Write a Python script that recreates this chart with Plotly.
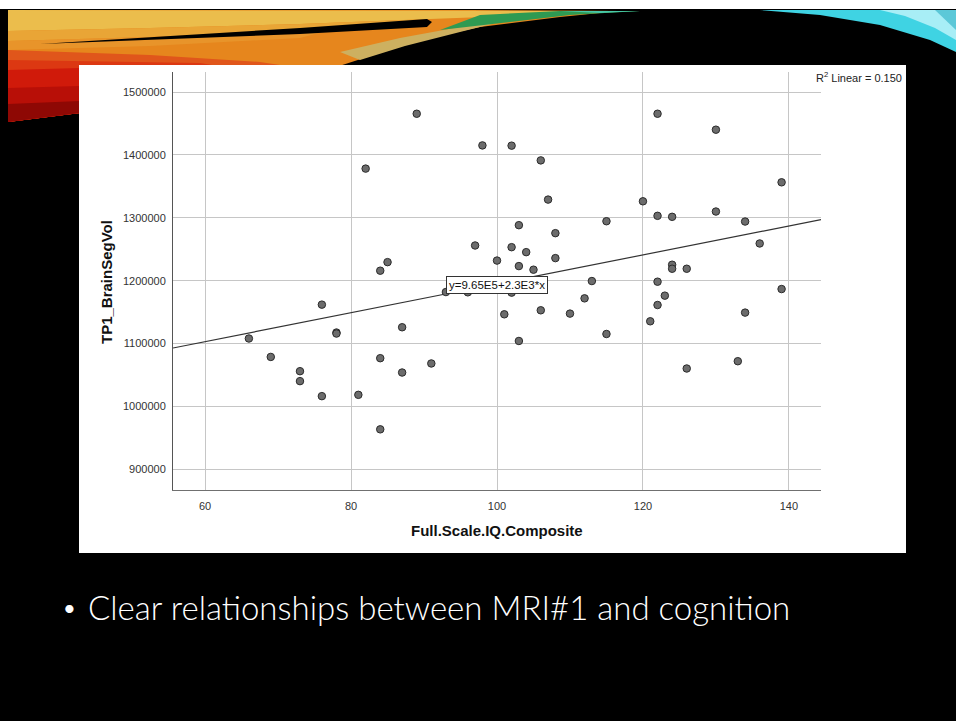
import numpy as np
import plotly.graph_objects as go

# ---------------- data ----------------
iq = [66, 69, 73, 73, 76, 76, 78, 78, 81, 82, 84, 84, 84, 85, 87, 87, 89, 91,
      93, 96, 97, 98, 100, 101, 102, 102, 102, 103, 103, 103, 104, 105, 106, 106,
      107, 108, 108, 110, 112, 113, 115, 115, 120, 121, 122, 122, 122, 122, 123,
      124, 124, 124, 126, 126, 130, 130, 133, 134, 134, 136, 139, 139]
brain_vol = [1108000, 1078700, 1056000, 1040200, 1161900, 1016300, 1117500, 1115900,
             1018400, 1378300, 1215900, 1076700, 963500, 1229500, 1125900, 1053900,
             1465600, 1068300, 1181900, 1181500, 1256000, 1415200, 1232000, 1146500,
             1414800, 1253300, 1181000, 1288300, 1223200, 1104100, 1245400, 1217500,
             1391400, 1152900, 1329000, 1275600, 1235900, 1147600, 1171900, 1199400,
             1294600, 1115200, 1326300, 1135400, 1465600, 1303200, 1198400, 1161300,
             1176200, 1301600, 1225400, 1219000, 1219000, 1060300, 1440200, 1310000,
             1071900, 1294100, 1149200, 1259200, 1356500, 1186700]

fit_intercept = 9.65e5
fit_slope = 2.3e3
r2_text = "R<sup>2</sup> Linear = 0.150"
eq_text = "y=9.65E5+2.3E3*x"
eq_anchor_x = 93

x_ticks = [60, 80, 100, 120, 140]
y_ticks = [900000, 1000000, 1100000, 1200000, 1300000, 1400000, 1500000]
x_range = [55.6, 144.4]
y_range = [867000, 1532000]

x_title = "Full.Scale.IQ.Composite"
y_title = "TP1_BrainSegVol"
bullet_text = "Clear relationships between MRI#1 and cognition"

# ---------------- layout geometry ----------------
W, H = 956, 721
L, R, T, B = 173, 135, 72, 231
PW, PH = W - L - R, H - T - B


def px(x):
    return (x - L) / PW


def py(y):
    return (H - B - y) / PH


def path(points):
    return "M " + " L ".join(f"{px(a):.5f},{py(b):.5f}" for a, b in points) + " Z"


def poly(points, color):
    return dict(type="path", xref="paper", yref="paper", path=path(points),
                fillcolor=color, line=dict(width=0), layer="below")


shapes = [
    # warm banner base
    poly([(8, 10), (470, 10), (620, 11), (560, 17), (480, 27), (420, 40), (333, 68),
          (80, 68), (80, 113), (8, 122)], "#e6861d"),
    # yellow upper part (gradient steps)
    poly([(8, 10), (620, 11), (540, 15), (430, 19), (300, 24), (150, 28), (8, 31)], "#ebbd4c"),
    poly([(8, 31), (150, 28), (300, 24), (430, 19), (330, 30), (150, 37), (8, 41)], "#e9a536"),
    poly([(8, 41), (150, 37), (330, 30), (300, 38), (150, 46), (8, 50)], "#e8942a"),
    # pale highlight on right part of band
    poly([(340, 52), (400, 38), (460, 27), (500, 22), (460, 32), (405, 46), (360, 60)], "#cdb060"),
    # red lower-left (gradient steps)
    poly([(8, 50), (150, 55), (260, 62), (300, 68), (80, 68), (80, 113), (8, 122)], "#e0561b"),
    poly([(8, 60), (200, 63), (230, 68), (80, 68), (80, 113), (8, 122)], "#dc3812"),
    poly([(8, 70), (80, 68), (80, 113), (8, 122)], "#d01a0a"),
    poly([(8, 88), (80, 86), (80, 113), (8, 122)], "#b80f07"),
    poly([(8, 104), (80, 101), (80, 113), (8, 122)], "#8e0804"),
    # black streak
    poly([(40, 44), (300, 28), (427, 19), (432, 22), (427, 27), (300, 34)], "#000000"),
    # green wedge
    poly([(440, 30), (480, 15), (560, 11), (640, 11), (570, 15), (510, 22)], "#2e9a52"),
    poly([(560, 11), (640, 11), (600, 13)], "#48c8a8"),
    # cyan swoosh
    poly([(760, 10), (956, 10), (956, 52), (930, 40), (880, 25), (820, 15)], "#3fd3e3"),
    poly([(880, 10), (956, 10), (956, 40), (935, 28), (905, 16)], "#a8eef6"),
    poly([(935, 10), (956, 10), (956, 30)], "#5cc8d8"),
    # white strip at top
    poly([(0, 0), (956, 0), (956, 9), (0, 9)], "#ffffff"),
    # white chart panel
    poly([(79, 65), (906, 65), (906, 553), (79, 553)], "#ffffff"),
]

# ---------------- traces ----------------
fig = go.Figure()

line_x = np.array(x_range)
line_y = fit_intercept + fit_slope * line_x
fig.add_trace(go.Scatter(x=line_x, y=line_y, mode="lines",
                         line=dict(color="#333333", width=1.2),
                         hoverinfo="skip", showlegend=False, cliponaxis=True))

fig.add_trace(go.Scatter(x=iq, y=brain_vol, mode="markers",
                         marker=dict(size=7.5, color="#6c6c6c",
                                     line=dict(color="#2b2b2b", width=1)),
                         showlegend=False))

tick_font = dict(family="Arial, Liberation Sans, sans-serif", size=11, color="#333333")

fig.update_layout(
    width=W, height=H,
    margin=dict(l=L, r=R, t=T, b=B, pad=0),
    paper_bgcolor="#000000",
    plot_bgcolor="rgba(0,0,0,0)",
    shapes=shapes,
    showlegend=False,
    xaxis=dict(range=x_range, tickvals=x_ticks, ticktext=[str(v) for v in x_ticks],
               showgrid=True, gridcolor="#c6c6c6", gridwidth=1,
               showline=True, linecolor="#707070", linewidth=1,
               zeroline=False, ticks="", tickfont=tick_font,
               ticklabelstandoff=6),
    yaxis=dict(range=y_range, tickvals=y_ticks, ticktext=[str(v) for v in y_ticks],
               showgrid=True, gridcolor="#c6c6c6", gridwidth=1,
               showline=True, linecolor="#555555", linewidth=1,
               zeroline=False, ticks="", tickfont=tick_font,
               ticklabelstandoff=4),
    annotations=[
        dict(x=eq_anchor_x, y=fit_intercept + fit_slope * eq_anchor_x, xref="x", yref="y",
             text=eq_text, showarrow=False, xanchor="left", yanchor="bottom",
             bgcolor="#ffffff", bordercolor="#333333", borderwidth=1, borderpad=2,
             font=dict(family="Arial, Liberation Sans, sans-serif", size=11.5, color="#111111")),
        dict(x=px(904), y=py(77), xref="paper", yref="paper", text=r2_text,
             showarrow=False, xanchor="right", yanchor="middle",
             font=dict(family="Arial, Liberation Sans, sans-serif", size=11, color="#222222")),
        dict(x=px(106), y=py(282), xref="paper", yref="paper", text=f"<b>{y_title}</b>",
             showarrow=False, textangle=-90, xanchor="center", yanchor="middle",
             font=dict(family="Arial, Liberation Sans, sans-serif", size=15, color="#111111")),
        dict(x=px(497), y=py(530), xref="paper", yref="paper", text=f"<b>{x_title}</b>",
             showarrow=False, xanchor="center", yanchor="middle",
             font=dict(family="Arial, Liberation Sans, sans-serif", size=15, color="#111111")),
        dict(x=px(69.5), y=py(607), xref="paper", yref="paper", text="•",
             showarrow=False, xanchor="center", yanchor="middle",
             font=dict(family="Lato, sans-serif", size=22, color="#ffffff")),
        dict(x=px(86), y=py(607), xref="paper", yref="paper", text=bullet_text,
             showarrow=False, xanchor="left", yanchor="middle",
             font=dict(family="Lato, sans-serif", size=33, color="#ffffff", weight=300)),
    ],
)

fig.write_html("out.html")
